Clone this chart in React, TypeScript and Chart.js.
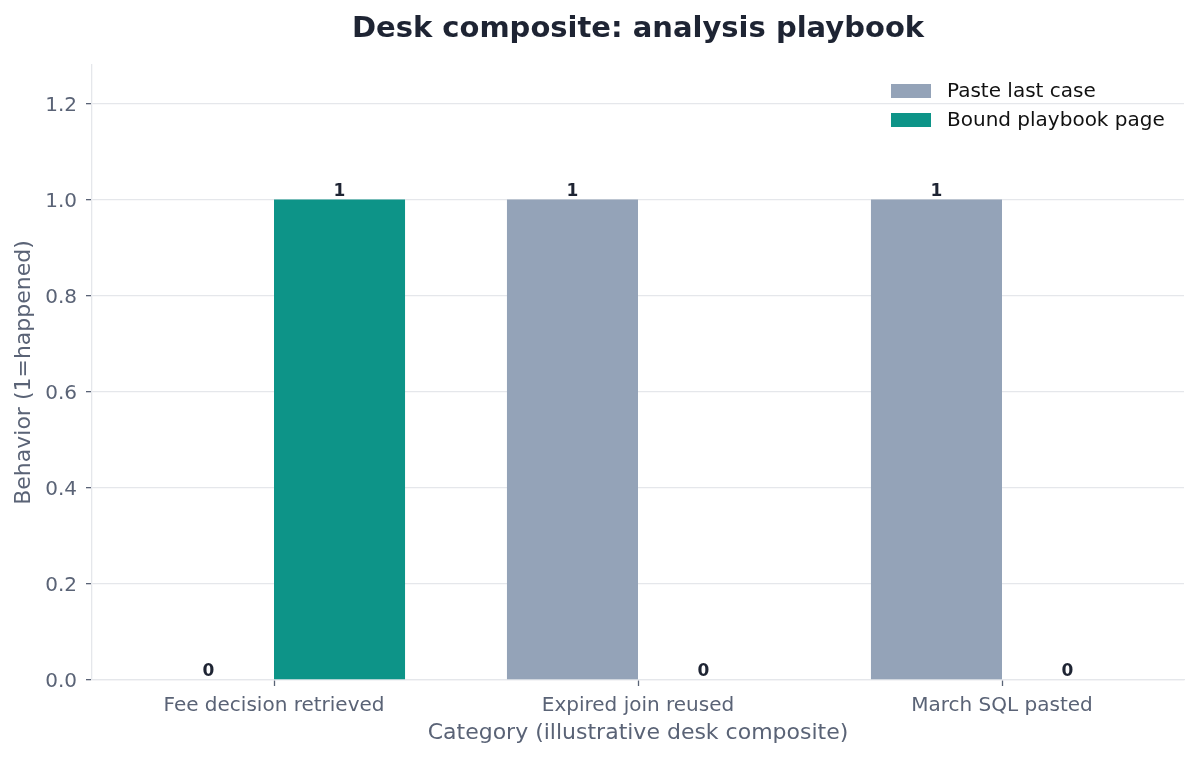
import React, { useEffect, useRef } from 'react';
import { Chart, registerables } from 'chart.js';

Chart.register(...registerables);

const categories = ['Fee decision retrieved', 'Expired join reused', 'March SQL pasted'];
const pasteLastCase = [0, 1, 1];
const boundPlaybook = [1, 0, 0];
const seriesNames = ['Paste last case', 'Bound playbook page'];
const seriesColors = ['#94a3b8', '#0d9488'];

const FONT = "'DejaVu Sans', sans-serif";
const TEXT = '#5a6376';
const DARK = '#1e2433';
const GRID = '#e5e7eb';

const overlay = {
  id: 'overlay',
  afterDatasetsDraw(chart: any) {
    const ctx = chart.ctx;
    ctx.save();
    // value labels above bars
    ctx.font = `bold 17px ${FONT}`;
    ctx.fillStyle = DARK;
    ctx.textAlign = 'center';
    ctx.textBaseline = 'alphabetic';
    chart.data.datasets.forEach((ds: any, di: number) => {
      const meta = chart.getDatasetMeta(di);
      meta.data.forEach((bar: any, i: number) => {
        ctx.fillText(String(ds.data[i]), bar.x, bar.y - 4);
      });
    });

    // title
    ctx.font = `bold 29px ${FONT}`;
    ctx.textBaseline = 'middle';
    ctx.fillText('Desk composite: analysis playbook', (chart.chartArea.left + chart.chartArea.right) / 2, 29);

    // legend
    const right = chart.chartArea.right;
    ctx.font = `20px ${FONT}`;
    ctx.textAlign = 'left';
    seriesNames.forEach((name, i) => {
      const y = 91 + i * 29;
      ctx.fillStyle = seriesColors[i];
      ctx.fillRect(right - 293, y - 7, 40, 14);
      ctx.fillStyle = '#111111';
      ctx.fillText(name, right - 237, y + 1);
    });
    ctx.restore();
  },
};

export default function App() {
  const canvasRef = useRef<HTMLCanvasElement>(null);

  useEffect(() => {
    document.body.style.margin = '0';
    if (!canvasRef.current) return;
    const chart = new Chart(canvasRef.current, {
      type: 'bar',
      data: {
        labels: categories,
        datasets: [
          {
            label: seriesNames[0],
            data: pasteLastCase,
            backgroundColor: seriesColors[0],
            categoryPercentage: 0.72,
            barPercentage: 1.0,
          },
          {
            label: seriesNames[1],
            data: boundPlaybook,
            backgroundColor: seriesColors[1],
            categoryPercentage: 0.72,
            barPercentage: 1.0,
          },
        ],
      },
      options: {
        responsive: false,
        animation: false,
        layout: { padding: { top: 65, right: 15, left: 0, bottom: 0 } },
        plugins: {
          legend: { display: false },
          title: { display: false },
          tooltip: { enabled: false },
        },
        scales: {
          x: {
            offset: true,
            grid: {
              offset: false,
              drawOnChartArea: false,
              drawTicks: true,
              tickLength: 6,
              tickColor: TEXT,
              tickWidth: 1.3,
            },
            border: { color: GRID, width: 1.3 },
            ticks: { color: TEXT, font: { family: FONT, size: 20 }, padding: 8, maxRotation: 0 },
            title: {
              display: true,
              text: 'Category (illustrative desk composite)',
              color: TEXT,
              font: { family: FONT, size: 22 },
              padding: { top: 0, bottom: 14 },
            },
            afterFit(scale: any) {
              scale.height = 80;
            },
          },
          y: {
            min: 0,
            max: 1.28,
            grid: {
              color: GRID,
              lineWidth: 1.3,
              drawTicks: true,
              tickLength: 6,
              tickColor: TEXT,
              tickWidth: 1.3,
            },
            border: { color: GRID, width: 1.3 },
            ticks: {
              stepSize: 0.2,
              includeBounds: false,
              color: TEXT,
              font: { family: FONT, size: 20 },
              padding: 9,
              labelOffset: 2,
              callback: (v: any) => Number(v).toFixed(1),
            },
            title: {
              display: true,
              text: 'Behavior (1=happened)',
              color: TEXT,
              font: { family: FONT, size: 22 },
              padding: { top: 11, bottom: 0 },
            },
            afterFit(scale: any) {
              scale.width = 92;
            },
          },
        },
      } as any,
      plugins: [overlay],
    });
    return () => chart.destroy();
  }, []);

  return (
    <div style={{ width: 1199, height: 760, background: '#ffffff' }}>
      <canvas ref={canvasRef} width={1199} height={760} />
    </div>
  );
}
